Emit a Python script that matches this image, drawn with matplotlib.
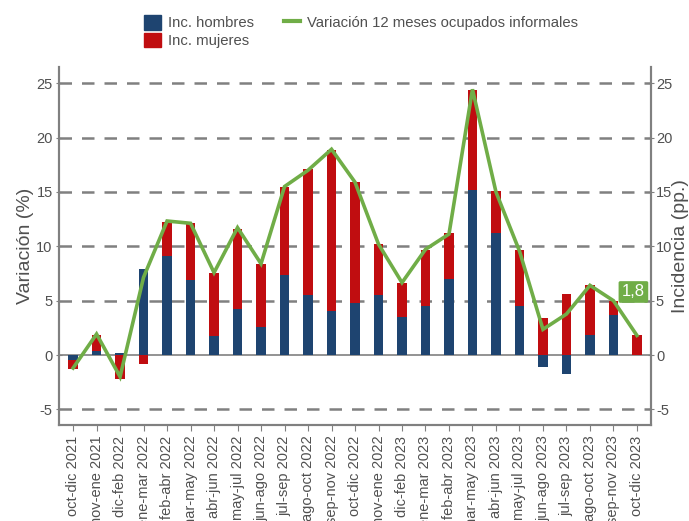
import matplotlib
matplotlib.use("Agg")
import matplotlib.pyplot as plt
import numpy as np
from matplotlib.patches import Patch
from matplotlib.lines import Line2D

plt.rcParams['font.family'] = ['Liberation Sans', 'DejaVu Sans']
plt.rcParams['axes.unicode_minus'] = False

categories = ["oct-dic 2021", "nov-ene 2021", "dic-feb 2022", "ene-mar 2022", "feb-abr 2022",
              "mar-may 2022", "abr-jun 2022", "may-jul 2022", "jun-ago 2022", "jul-sep 2022",
              "ago-oct 2022", "sep-nov 2022", "oct-dic 2022", "nov-ene 2022", "dic-feb 2023",
              "ene-mar 2023", "feb-abr 2023", "mar-may 2023", "abr-jun 2023", "may-jul 2023",
              "jun-ago 2023", "jul-sep 2023", "ago-oct 2023", "sep-nov 2023", "oct-dic 2023"]
hombres = [-0.45, 0.37, 0.2, 7.9, 9.14, 6.87, 1.72, 4.26, 2.58, 7.36, 5.55, 4.02, 4.75,
           5.52, 3.47, 4.5, 6.96, 15.2, 11.2, 4.54, -1.07, -1.75, 1.84, 3.65, 0.0]
mujeres = [-0.85, 1.5, -2.2, -0.8, 3.13, 5.25, 5.8, 7.37, 5.76, 8.1, 11.54, 14.88, 11.15,
           4.69, 3.19, 5.13, 4.24, 9.2, 3.9, 5.12, 3.4, 5.58, 4.57, 1.35, 1.84]
variacion = [-1.2, 1.93, -2.0, 7.15, 12.33, 12.12, 7.58, 11.72, 8.4, 15.5, 17.0, 18.93, 15.9,
             10.2, 6.66, 9.72, 11.13, 24.45, 15.0, 9.57, 2.36, 3.77, 6.41, 5.0, 1.8]
yticks = [-5, 0, 5, 10, 15, 20, 25]

c_blue = "#1e4470"
c_red = "#c00d10"
c_green = "#70ad47"
c_grid = "#808080"
c_text = "#505050"

fig = plt.figure(figsize=(6.89, 5.21), dpi=100)
ax = fig.add_axes([0.0856, 0.184, 0.8593, 0.6874])

x = np.arange(len(categories))
h = np.array(hombres)
m = np.array(mujeres)
m_bottom = np.where(np.sign(m) == np.sign(h), h, 0.0)

w = 0.4
ax.bar(x, h, width=w, color=c_blue, zorder=3)
ax.bar(x, m, width=w, bottom=m_bottom, color=c_red, zorder=3)
ax.plot(x, variacion, color=c_green, lw=2.6, zorder=4, solid_joinstyle='miter')

ax.set_ylim(-6.45, 26.5)
ax.set_xlim(-0.6, len(categories) - 0.4)
for t in yticks:
    if t == 0:
        ax.axhline(0, color=c_grid, lw=1.2, zorder=2)
    else:
        ax.axhline(t, color=c_grid, lw=1.8, ls=(0, (5, 4)), zorder=1)

ax.set_yticks(yticks)
ax.set_xticks(x)
ax.set_xticklabels(categories, rotation=90, fontsize=10.5, color=c_text)
ax.tick_params(axis='y', labelsize=10.5, labelcolor=c_text, color=c_grid, length=5,
               direction='inout', pad=2)
ax.tick_params(axis='x', color=c_grid, length=4)
ax.spines['top'].set_visible(False)
for s in ['left', 'right', 'bottom']:
    ax.spines[s].set_color(c_grid)
    ax.spines[s].set_linewidth(1.5)
ax.set_ylabel("Variación (%)", fontsize=14, color=c_text, labelpad=2)

ax2 = ax.twinx()
ax2.set_ylim(ax.get_ylim())
ax2.set_yticks(yticks)
ax2.tick_params(axis='y', labelsize=10.5, labelcolor=c_text, color=c_grid, length=5,
                direction='inout', pad=1)
ax2.spines['top'].set_visible(False)
for s in ['left', 'right', 'bottom']:
    ax2.spines[s].set_color(c_grid)
    ax2.spines[s].set_linewidth(1.5)
ax2.set_ylabel("Incidencia (pp.)", fontsize=14, color=c_text, labelpad=0)

ax.annotate("1,8", xy=(x[-1], variacion[-1]), xytext=(x[-1] - 0.15, 5.8),
            ha='center', va='center', fontsize=12, color='white', zorder=6,
            bbox=dict(boxstyle='round,pad=0.2,rounding_size=0.1', fc=c_green, ec='none'))

handles = [Patch(color=c_blue, label="Inc. hombres"),
           Patch(color=c_red, label="Inc. mujeres"),
           Line2D([0], [0], color=c_green, lw=3, label="Variación 12 meses ocupados informales")]
leg = fig.legend(handles=handles, ncol=2, loc='upper left', bbox_to_anchor=(0.205, 0.977),
                 frameon=False, fontsize=10.7, handlelength=1.1, handleheight=1.15,
                 labelspacing=0.15, columnspacing=2.0, handletextpad=0.5,
                 borderpad=0.2, borderaxespad=0)
for t in leg.get_texts():
    t.set_color(c_text)

fig.savefig("out.png", dpi=100)
